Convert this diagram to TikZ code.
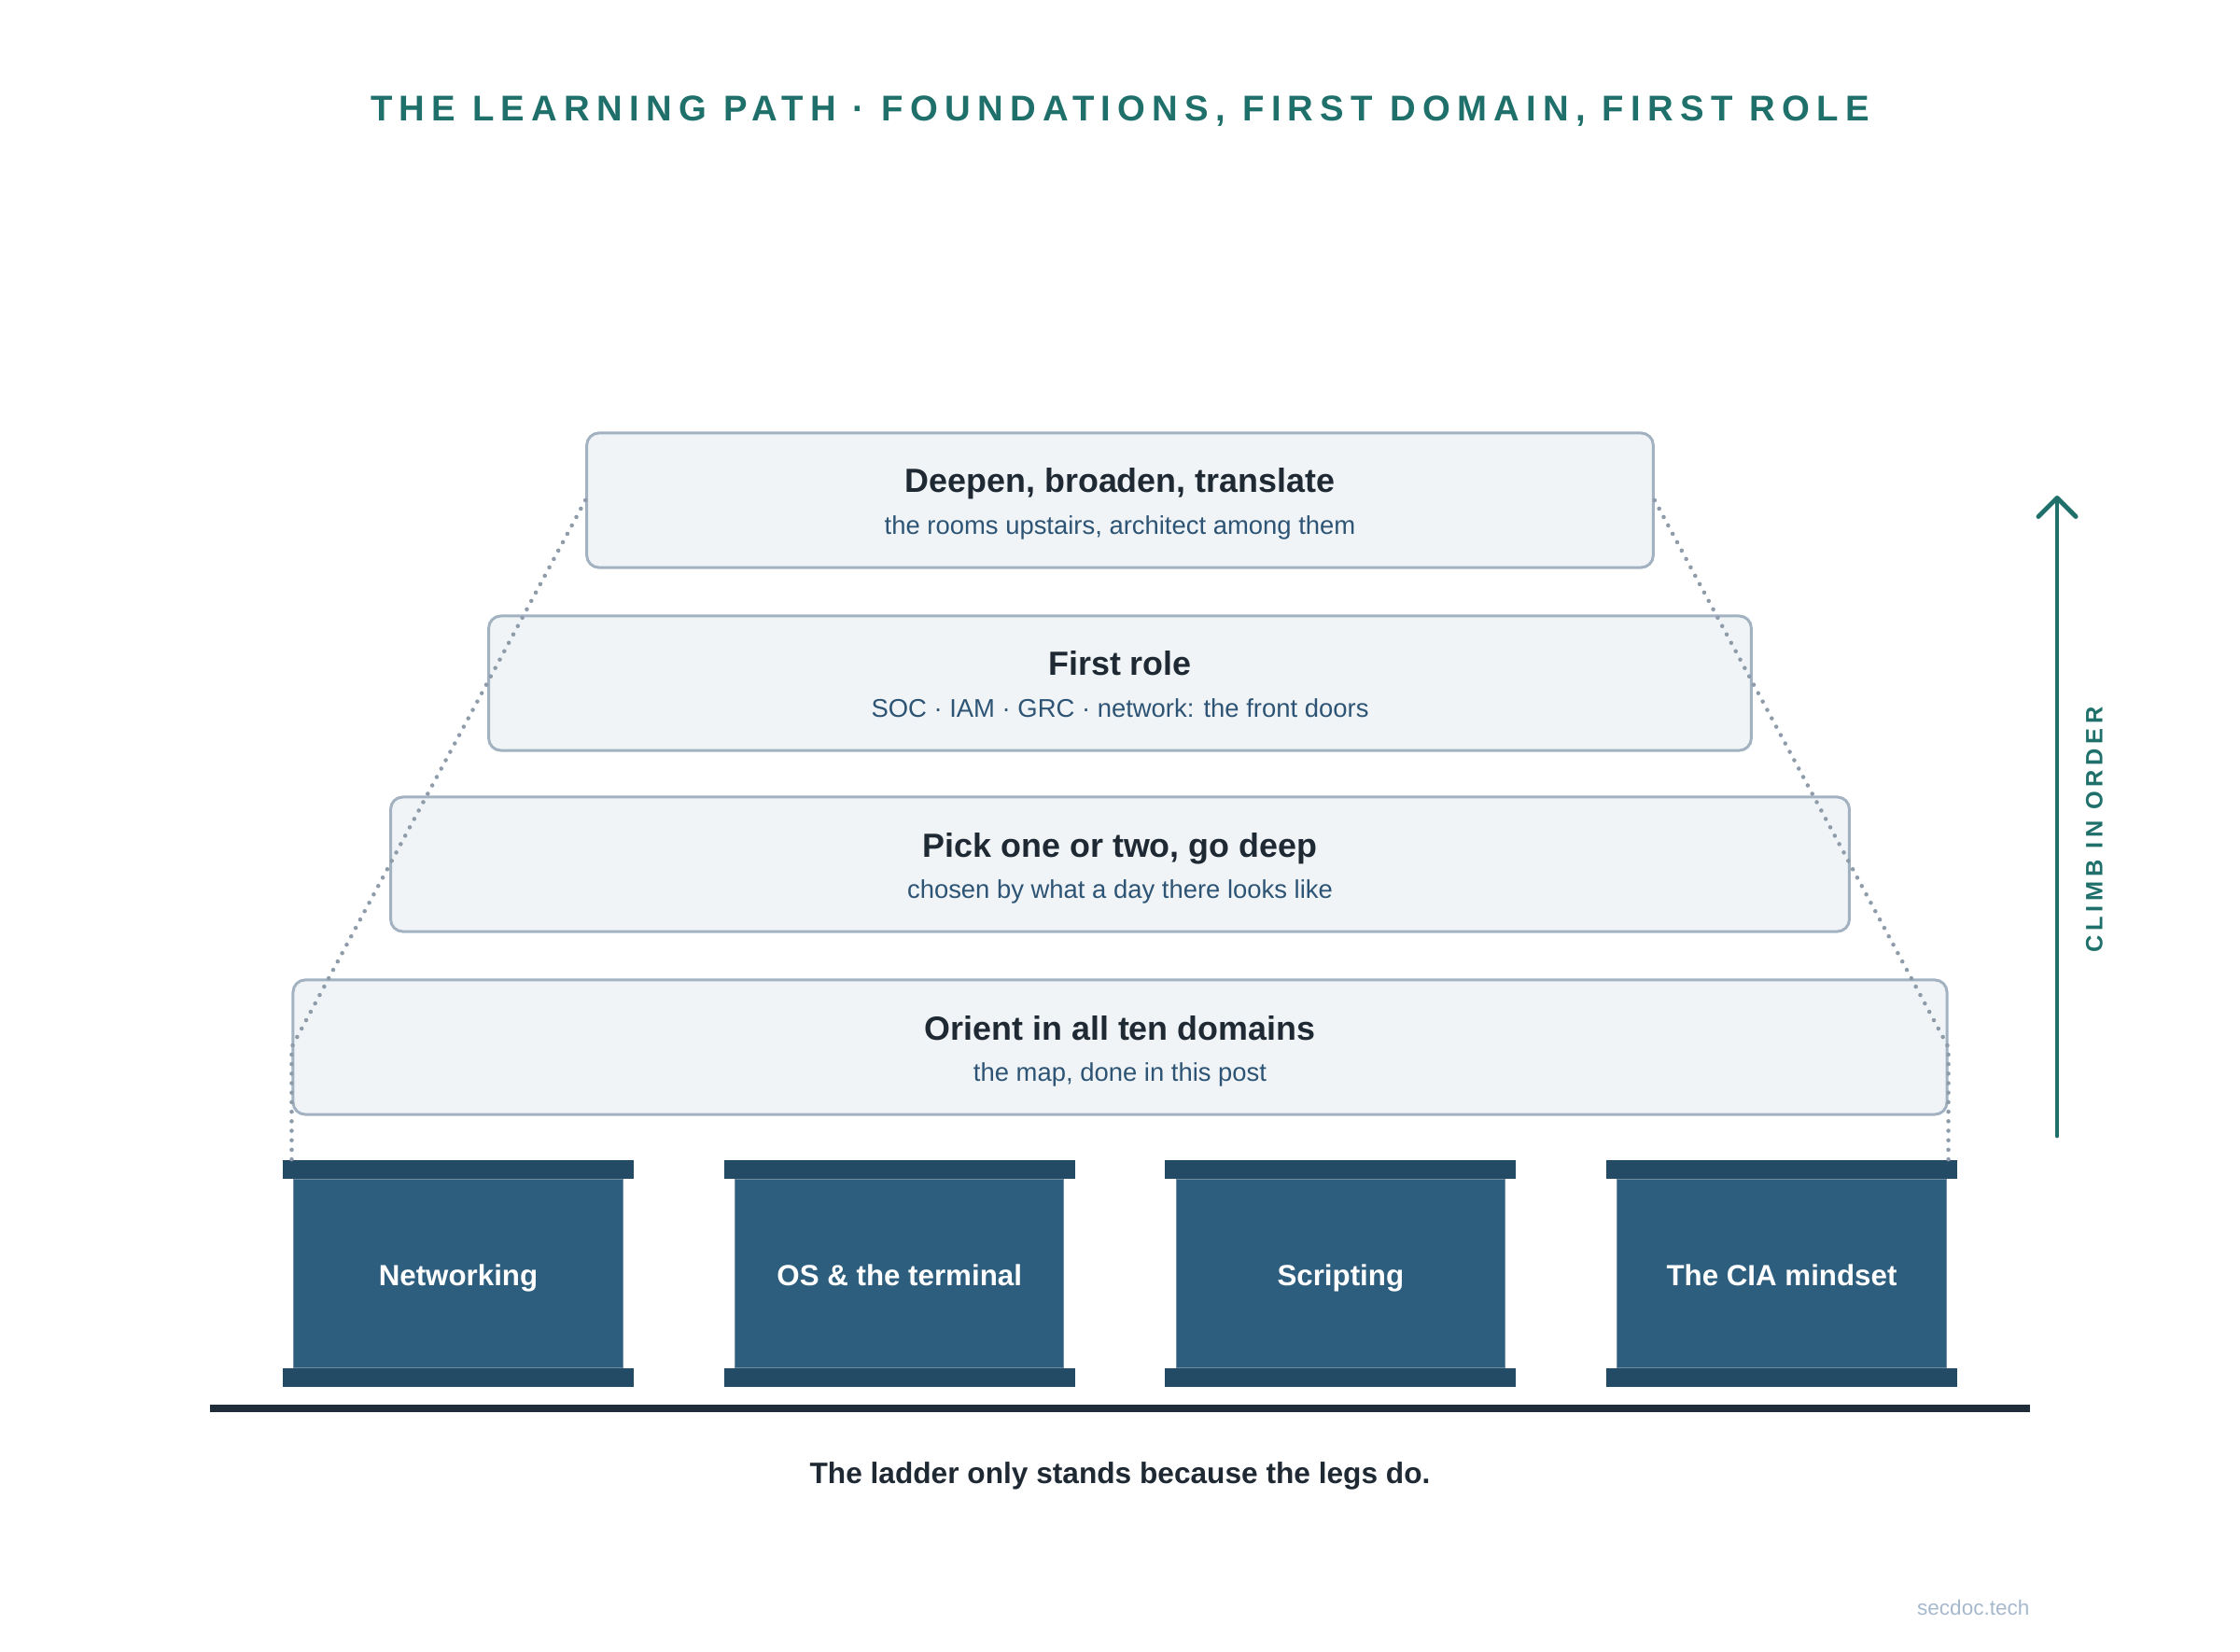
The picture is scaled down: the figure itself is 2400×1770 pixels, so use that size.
\documentclass[tikz,border=0pt]{standalone}
\usepackage{fontspec}
\setmainfont{Liberation Sans}
\newfontfamily\trackedfont[LetterSpace=19]{Liberation Sans}
\usepackage{xcolor}
\usetikzlibrary{arrows.meta}
\definecolor{pathteal}{HTML}{1F706B}
\definecolor{tierfill}{HTML}{F0F4F7}
\definecolor{tierline}{HTML}{A3B2C1}
\definecolor{tierink}{HTML}{1F2933}
\definecolor{tiersubink}{HTML}{2D5474}
\definecolor{legfill}{HTML}{2E5E7E}
\definecolor{legline}{HTML}{6F8CA3}
\definecolor{capfill}{HTML}{244B66}
\definecolor{groundink}{HTML}{1F2D3B}
\definecolor{guidegray}{HTML}{8E9CAA}
\definecolor{markgray}{HTML}{A6B8CC}
\tikzset{
tierbox/.style={rectangle, rounded corners=3.7pt, draw=tierline, fill=tierfill, line width=0.85pt, inner sep=0pt, minimum width=#1, minimum height=1.44cm},
tierhead/.style={anchor=base, inner sep=0pt, text=tierink, font=\fontsize{10.2}{12}\selectfont\bfseries},
tiersub/.style={anchor=base, inner sep=0pt, text=tiersubink, font=\fontsize{7.8}{9}\selectfont},
legbody/.style={rectangle, draw=legline, line width=0.3pt, fill=legfill, inner sep=0pt, minimum width=3.52cm, minimum height=2.01cm},
legcap/.style={rectangle, fill=capfill, inner sep=0pt, minimum width=3.76cm, minimum height=0.195cm},
legtext/.style={anchor=base, inner sep=0pt, text=white, font=\fontsize{8.9}{11}\selectfont\bfseries},
guide/.style={draw=guidegray, line width=1.3pt, line cap=round, dash pattern=on 0pt off 2.9pt},
climbarrow/.style={draw=pathteal, line width=1.4pt, line cap=round, -{Straight Barb[length=5.7pt, width=11.4pt, line cap=round, line join=round]}},
}

\begin{document}
\begin{tikzpicture}[x=0.01cm, y=-0.01cm]
    \useasboundingbox (0,0) rectangle (2400,1770);
    \node[anchor=base, inner sep=0pt, text=pathteal, font=\trackedfont\fontsize{10.9}{13}\selectfont\bfseries] at (1200,130) (heading) {THE LEARNING PATH · FOUNDATIONS, FIRST DOMAIN, FIRST ROLE};
    % the rungs
    \node[tierbox=17.71cm] at (1200,1122) (t1) {};
    \node[tierbox=15.62cm] at (1200,926) (t2) {};
    \node[tierbox=13.52cm] at (1200,732) (t3) {};
    \node[tierbox=11.42cm] at (1200,536) (t4) {};
    % the legs
    \node[legbody] at (491,1364.5) (leg1) {};
    \node[legbody] at (963.7,1364.5) (leg2) {};
    \node[legbody] at (1436.3,1364.5) (leg3) {};
    \node[legbody] at (1909,1364.5) (leg4) {};
    \node[legcap, anchor=south] at (leg1.north) (cap1top) {};
    \node[legcap, anchor=north] at (leg1.south) (cap1foot) {};
    \node[legcap, anchor=south] at (leg2.north) (cap2top) {};
    \node[legcap, anchor=north] at (leg2.south) (cap2foot) {};
    \node[legcap, anchor=south] at (leg3.north) (cap3top) {};
    \node[legcap, anchor=north] at (leg3.south) (cap3foot) {};
    \node[legcap, anchor=south] at (leg4.north) (cap4top) {};
    \node[legcap, anchor=north] at (leg4.south) (cap4foot) {};
    \draw[guide] (t4.west) -- (t1.west) -- (t1.west |- cap1top.north);
    \draw[guide] (t4.east) -- (t1.east) -- (t1.east |- cap4top.north);
    \node[tierhead] at ([yshift=0.08cm]t1.center) (t1head) {Orient in all ten domains};
    \node[tiersub] at ([yshift=-0.36cm]t1.center) (t1sub) {the map, done in this post};
    \node[tierhead] at ([yshift=0.08cm]t2.center) (t2head) {Pick one or two, go deep};
    \node[tiersub] at ([yshift=-0.36cm]t2.center) (t2sub) {chosen by what a day there looks like};
    \node[tierhead] at ([yshift=0.08cm]t3.center) (t3head) {First role};
    \node[tiersub] at ([yshift=-0.36cm]t3.center) (t3sub) {SOC · IAM · GRC · network: the front doors};
    \node[tierhead] at ([yshift=0.08cm]t4.center) (t4head) {Deepen, broaden, translate};
    \node[tiersub] at ([yshift=-0.36cm]t4.center) (t4sub) {the rooms upstairs, architect among them};
    \node[legtext] at ([yshift=-0.125cm]leg1.center) (leg1text) {Networking};
    \node[legtext] at ([yshift=-0.125cm]leg2.center) (leg2text) {OS \& the terminal};
    \node[legtext] at ([yshift=-0.125cm]leg3.center) (leg3text) {Scripting};
    \node[legtext] at ([yshift=-0.125cm]leg4.center) (leg4text) {The CIA mindset};
    % ground and arrow
    \coordinate (groundwest) at (225,1509);
    \coordinate (groundeast) at (2175,1509);
    \draw[groundink, line width=2pt] (groundwest) -- (groundeast);
    \coordinate (climbfoot) at (2204,1217);
    \coordinate (climbtop) at (2204,531);
    \draw[climbarrow] (climbfoot) -- (climbtop);
    \node[rotate=90, inner sep=0pt, text=pathteal, font=\trackedfont\fontsize{7.2}{9}\selectfont\bfseries] at (2244,889) (climb) {CLIMB IN ORDER};
    \node[anchor=base, inner sep=0pt, text=tierink, font=\fontsize{9}{11}\selectfont\bfseries] at (1200,1589) (moral) {The ladder only stands because the legs do.};
    \node[anchor=base east, inner sep=0pt, text=markgray, font=\fontsize{6.4}{8}\selectfont] at (2175,1730) (mark) {secdoc.tech};
\end{tikzpicture}
\end{document}
